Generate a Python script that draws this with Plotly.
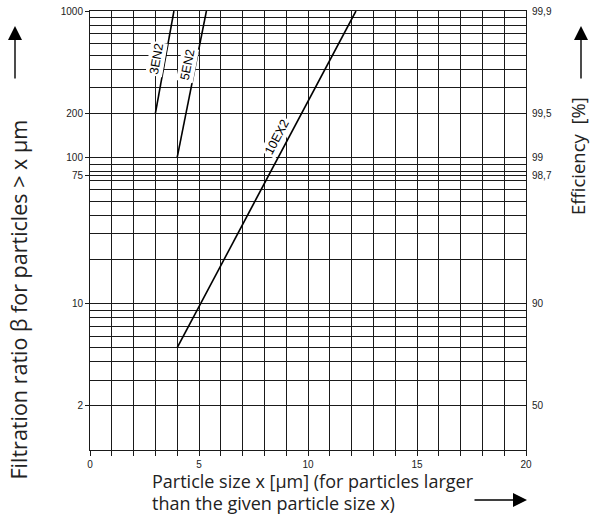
import numpy as np
import plotly.graph_objects as go

# ---- data ----
x_3en2 = [3.0, 3.85]
beta_3en2 = [200, 1000]
x_5en2 = [4.0, 5.34]
beta_5en2 = [100, 1000]
x_10ex2 = [4.0, 12.2]
beta_10ex2 = [5, 1000]

series_names = ["3EN2", "5EN2", "10EX2"]
label_x = [3.05, 4.47, 8.58]
label_beta = [470, 428, 138]
label_angle = [-80, -79, -62]

beta_tickvals = [2, 10, 75, 100, 200, 1000]
beta_ticktext = ["2", "10", "75", "100", "200", "1000"]
eff_ticktext = ["50", "90", "98,7", "99", "99,5", "99,9"]
beta_grid = [1, 2, 3, 4, 5, 6, 7, 8, 9, 10, 20, 30, 40, 50, 60, 70, 75, 80, 90,
             100, 200, 300, 400, 500, 600, 700, 800, 900, 1000]
x_tickvals = [0, 5, 10, 15, 20]

x_title_lines = ["Particle size x [µm] (for particles larger", "than the given particle size x)"]

GRID = "#1a1a1a"
TICKFONT = dict(family="Liberation Sans, Arial", size=10, color="#222")
TITLEFONT = "Open Sans, Noto Sans"

fig = go.Figure()
for xs, ys, nm in [(x_3en2, beta_3en2, "3EN2"), (x_5en2, beta_5en2, "5EN2"), (x_10ex2, beta_10ex2, "10EX2")]:
    fig.add_trace(go.Scatter(x=xs, y=ys, mode="lines", name=nm,
                             line=dict(color="black", width=1.6), showlegend=False,
                             hoverinfo="skip"))
# invisible trace carrying the efficiency axis
fig.add_trace(go.Scatter(x=x_10ex2, y=beta_10ex2, yaxis="y2", mode="lines",
                         line=dict(width=0, color="rgba(0,0,0,0)"), showlegend=False,
                         hoverinfo="skip"))

for nm, lx, lb, ang in zip(series_names, label_x, label_beta, label_angle):
    fig.add_annotation(x=lx, y=np.log10(lb), xref="x", yref="y", text=nm,
                       textangle=ang, showarrow=False, bgcolor="white",
                       xanchor="center", yanchor="middle",
                       font=dict(family="Liberation Sans, Arial", size=12.5, color="black"),
                       borderpad=1)

L, R, T, B = 90, 66, 11, 69
W, H = 592, 519
pw, ph = W - L - R, H - T - B


def px(x):
    return (x - L) / pw


def py(y):
    return (H - B - y) / ph


# axis titles
fig.add_annotation(x=px(17.5), y=py(300), xref="paper", yref="paper",
                   xanchor="center", yanchor="middle",
                   text="Filtration ratio β for particles > x µm", textangle=-90,
                   showarrow=False, font=dict(family=TITLEFONT, size=21.5, color="#222"))
fig.add_annotation(x=px(577), y=py(156), xref="paper", yref="paper",
                   xanchor="center", yanchor="middle",
                   text="Efficiency  [%]", textangle=-90,
                   showarrow=False, font=dict(family=TITLEFONT, size=18.5, color="#222"))
for line, yy in zip(x_title_lines, [481, 503]):
    fig.add_annotation(x=px(150), y=py(yy), xref="paper", yref="paper", xanchor="left",
                       yanchor="middle", align="left", text=line, showarrow=False,
                       font=dict(family=TITLEFONT, size=18, color="#222"))

# arrows
arrow = dict(showarrow=True, arrowhead=2, arrowsize=2.0, arrowwidth=1.4,
             arrowcolor="black", text="", xref="paper", yref="paper")
fig.add_annotation(x=px(15), y=py(26), ax=0, ay=54, **arrow)
fig.add_annotation(x=px(581), y=py(26), ax=0, ay=54, **arrow)
fig.add_annotation(x=px(527), y=py(500), ax=-54, ay=0, **arrow)

fig.update_layout(
    width=W, height=H,
    margin=dict(l=L, r=R, t=T, b=B, autoexpand=False),
    paper_bgcolor="white", plot_bgcolor="white",
    xaxis=dict(range=[0, 20], tickvals=x_tickvals, ticks="outside", ticklen=5,
               tickcolor=GRID, showgrid=True, gridcolor=GRID, gridwidth=1,
               showline=True, linecolor=GRID, linewidth=1, mirror=True,
               zeroline=False, tickfont=TICKFONT, automargin=False,
               ticklabeloverflow="allow",
               minor=dict(dtick=1, ticks="outside", ticklen=5, tickcolor=GRID,
                          showgrid=True, gridcolor=GRID, gridwidth=1)),
    yaxis=dict(type="log", range=[0, 3], tickvals=beta_tickvals, ticktext=beta_ticktext,
               ticks="outside", ticklen=4, tickcolor=GRID,
               showgrid=True, gridcolor=GRID, gridwidth=1,
               showline=True, linecolor=GRID, linewidth=1, mirror=True,
               zeroline=False, tickfont=TICKFONT, automargin=False,
               ticklabeloverflow="allow",
               minor=dict(tickvals=beta_grid, showgrid=True, gridcolor=GRID, gridwidth=1,
                          ticks="")),
    yaxis2=dict(type="log", range=[0, 3], overlaying="y", side="right",
                tickvals=beta_tickvals, ticktext=eff_ticktext, ticks="outside",
                ticklen=3, tickcolor="white", showgrid=False, zeroline=False,
                showline=False, tickfont=TICKFONT, automargin=False,
                ticklabeloverflow="allow"),
)

# remove the default 8px page margin so the 592x519 figure fills the window exactly
fig.write_html("out.html", config={"displayModeBar": False},
               post_script="document.body.style.margin='0px';")
